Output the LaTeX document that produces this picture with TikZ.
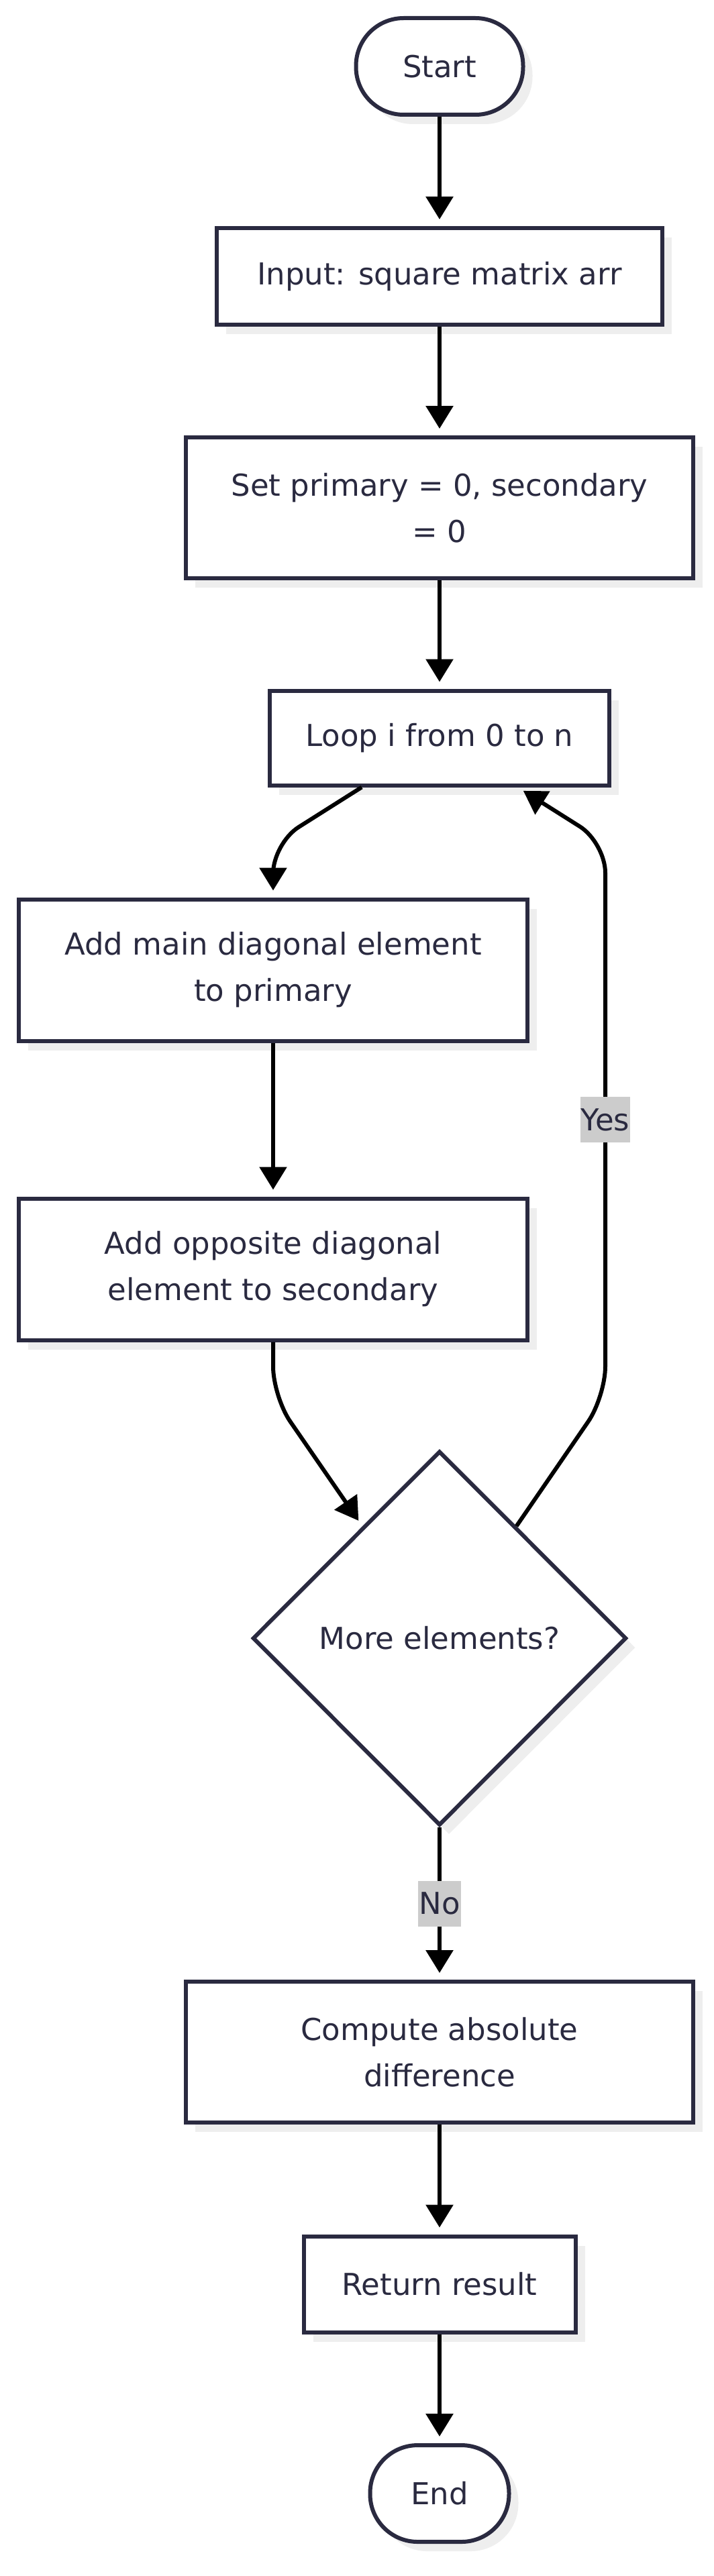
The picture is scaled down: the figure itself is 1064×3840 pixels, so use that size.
\documentclass[tikz,border=0pt]{standalone}
\usepackage{fontspec}
\setmainfont{DejaVu Sans}
\usetikzlibrary{arrows.meta,shapes.geometric,shadows}
\definecolor{bordercol}{RGB}{42,42,64}
\definecolor{shadecol}{RGB}{238,238,238}
\definecolor{lblgrey}{RGB}{204,204,204}
\tikzset{
  base/.style={draw=bordercol, line width=6pt, fill=white, text=bordercol,
    font=\fontsize{45}{69}\selectfont, align=center, inner sep=0pt,
    drop shadow={shadow xshift=14pt, shadow yshift=-14pt, fill=shadecol, opacity=1}},
  proc/.style={base, rectangle},
  term/.style={base, rectangle, rounded corners=71pt},
  decis/.style={base, diamond, aspect=1},
  edge/.style={draw=black, line width=6pt, -{Triangle[width=40pt,length=34pt]}, shorten >=10pt},
  lbl/.style={fill=lblgrey, text=bordercol, font=\fontsize{45}{69}\selectfont,
    inner xsep=1pt, inner ysep=0pt, minimum height=68pt}
}
\begin{document}
\begin{tikzpicture}[x=1pt,y=1pt]
\useasboundingbox (0,0) rectangle (1064,-3840);
\fill[white] (0,0) rectangle (1064,-3840);

\node[term, minimum width=249pt, minimum height=144pt] (start) at (655,-99) {Start};
\node[proc, minimum width=664pt, minimum height=144pt] (input) at (655,-412) {Input: square matrix arr};
\node[proc, minimum width=756pt, minimum height=210pt] (set) at (655,-757) {Set primary = 0, secondary\\= 0};
\node[proc, minimum width=506pt, minimum height=141pt] (loop) at (655,-1100) {Loop i from 0 to n};
\node[proc, minimum width=758pt, minimum height=211pt] (addmain) at (407,-1446) {Add main diagonal element\\to primary};
\node[proc, minimum width=758pt, minimum height=211pt] (addopp) at (407,-1892) {Add opposite diagonal\\element to secondary};
\node[decis, minimum width=557pt, minimum height=558pt] (dec) at (655,-2442) {More elements?};
\node[proc, minimum width=756pt, minimum height=210pt] (comp) at (655,-3059) {Compute absolute\\difference};
\node[proc, minimum width=405pt, minimum height=143pt] (ret) at (655,-3405) {Return result};
\node[term, minimum width=207pt, minimum height=144pt] (end) at (655,-3717) {End};

\coordinate (c1) at (407,-1257);
\coordinate (c2) at (407,-2082);
\coordinate (c3) at (902,-2082);
\coordinate (c4) at (902,-1256);

\draw[edge] (start) -- (input);
\draw[edge] (input) -- (set);
\draw[edge] (set) -- (loop);
\draw[edge, rounded corners=45pt] (loop) -- (c1) -- (addmain);
\draw[edge] (addmain) -- (addopp);
\draw[edge, rounded corners=45pt] (addopp) -- (c2) -- (dec);
\draw[edge, rounded corners=45pt] (dec) -- (c3) -- (c4) -- (loop);
\node[lbl] (yes) at (902,-1669) {Yes};
\draw[edge] (dec) -- (comp) node[lbl, midway] (no) {No};
\draw[edge] (comp) -- (ret);
\draw[edge] (ret) -- (end);
\end{tikzpicture}
\end{document}
